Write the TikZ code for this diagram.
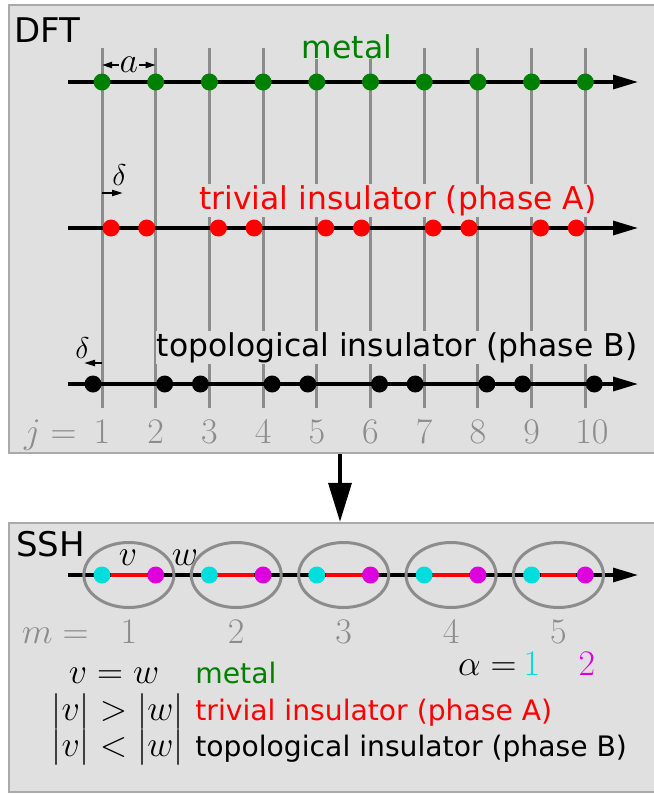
\documentclass[tikz,border=0pt]{standalone}
\usepackage{fix-cm}
\usepackage{fontspec}
\setmainfont{DejaVu Sans}
\usetikzlibrary{arrows.meta,fit,shapes.geometric}

\definecolor{panelfill}{RGB}{224,224,224}
\definecolor{panelline}{RGB}{170,170,170}
\definecolor{lattc}{RGB}{140,140,140}
\definecolor{metalc}{RGB}{0,128,0}
\definecolor{cyanc}{RGB}{0,221,221}
\definecolor{magc}{RGB}{221,0,221}

\begin{document}
\begin{tikzpicture}[
  x=0.5pt, y=-0.5pt,
  panel/.style={draw=panelline, fill=panelfill, line width=1.2pt, inner sep=0pt},
  latt/.style={draw=lattc, line width=1.5pt},
  rowline/.style={line width=1.6pt, -{Triangle[length=12.5pt, width=7pt]}},
  bond/.style={red, line width=1.6pt},
  site/.style={circle, inner sep=0pt, minimum size=8.5pt},
  cell/.style={ellipse, draw=lattc, line width=1.5pt, inner sep=0pt,
               minimum width=45pt, minimum height=32.5pt},
  darr/.style={line width=1pt, -{Triangle[length=5.5pt, width=3pt]}},
  dim/.style={line width=1pt, {Triangle[length=5pt, width=3pt]}-{Triangle[length=5pt, width=3pt]}},
  bigarr/.style={line width=1.7pt, -{Triangle[length=19.5pt, width=11.5pt]}},
  ttl/.style={font=\fontsize{17}{20}\selectfont, anchor=base west, inner sep=0pt},
  txt/.style={font=\fontsize{15.7}{19}\selectfont, anchor=base, fill=panelfill, inner sep=0.5pt},
  leg/.style={font=\fontsize{14.1}{17}\selectfont, anchor=base west, inner sep=0pt},
  eq/.style={font=\fontsize{18}{22}\selectfont, anchor=base, inner sep=0pt},
  num/.style={text=lattc, font=\fontsize{18}{22}\selectfont, anchor=base, inner sep=0pt},
  sml/.style={font=\fontsize{15}{18}\selectfont, anchor=base, inner sep=0pt},
]
\useasboundingbox (0,0) rectangle (654,794);

% ---------------- Panels ----------------
\node[panel, fit={(9,5) (656,453)}] (dft) {};
\node[panel, fit={(9,523) (656,792)}] (ssh) {};
\node[ttl] (dftlbl) at (14,42) {DFT};
\node[ttl] (sshlbl) at (16,556) {SSH};

% ---------------- Lattice sites j ----------------
\foreach \x [count=\j] in {102,155.7,209.4,263.1,316.8,370.5,424.2,477.9,531.6,585.3} {
  \coordinate (top\j) at (\x,48);
  \coordinate (bot\j) at (\x,408);
  \draw[latt] (top\j) -- (bot\j);
}
\foreach \x [count=\j] in {102,155.7,209.4,263.1,316.8,370.5,424.2,477.9,531.6,592}
  \node[num] (j\j) at (\x,443) {$\j$};
\node[num, anchor=base east] (jeq) at (77,443) {$j =$};

% ---------------- Metal ----------------
\coordinate (ms) at (68,82);
\coordinate (me) at (638,82);
\draw[rowline] (ms) -- (me);
\foreach \x [count=\j] in {102,155.7,209.4,263.1,316.8,370.5,424.2,477.9,531.6,585.3}
  \node[site, fill=metalc] (m\j) at (\x,82) {};
\coordinate (a1) at (102,65);
\coordinate (a2) at (155.7,65);
\draw[dim] (a1) -- (a2) node[eq, anchor=center, midway, fill=panelfill, inner sep=0.5pt] (albl) {$a$};
\node[txt, text=metalc] (metal) at (347,58) {metal};

% ---------------- Trivial insulator (phase A) ----------------
\coordinate (ts) at (68,228);
\coordinate (te) at (638,228);
\draw[rowline] (ts) -- (te);
\foreach \x [count=\j] in {111,146.7,218.4,254.1,325.8,361.5,433.2,468.9,540.6,576.3}
  \node[site, fill=red] (t\j) at (\x,228) {};
\coordinate (dts) at (102,193);
\coordinate (dte) at (123,193);
\draw[darr] (dts) -- (dte);
\node[sml] (dtlbl) at (119.5,185) {$\delta$};
\node[txt, text=red] (triv) at (398,209) {trivial insulator (phase A)};

% ---------------- Topological insulator (phase B) ----------------
\coordinate (bs) at (68,384);
\coordinate (be) at (638,384);
\draw[rowline] (bs) -- (be);
\foreach \x [count=\j] in {93,164.7,200.4,272.1,307.8,379.5,415.2,486.9,522.6,594.3}
  \node[site, fill=black] (b\j) at (\x,384) {};
\coordinate (dbs) at (102,363);
\coordinate (dbe) at (84,363);
\draw[darr] (dbs) -- (dbe);
\node[sml] (dblbl) at (82.5,358) {$\delta$};
\node[txt] (topo) at (397,356) {topological insulator (phase B)};

% ---------------- DFT to SSH ----------------
\coordinate (arrx) at (340,0);
\draw[bigarr] (dft.south -| arrx) -- (ssh.north -| arrx);

% ---------------- SSH chain ----------------
\coordinate (ss) at (68,575);
\coordinate (se) at (638,575);
\draw[rowline] (ss) -- (se);
\foreach \xa/\xb [count=\m] in {102/155.7,209.4/263.1,316.8/370.5,424.2/477.9,531.6/585.3} {
  \node[cell] (c\m) at ({(\xa+\xb)/2},575) {};
  \node[site, fill=cyanc] (cy\m) at (\xa,575) {};
  \node[site, fill=magc] (mg\m) at (\xb,575) {};
  \draw[bond] (cy\m) -- (mg\m);
  \node[num] (mn\m) at ({(\xa+\xb)/2},643) {$\m$};
}
\node[num, anchor=base east] (meq) at (89,643) {$m =$};
\node[eq] (vlbl) at (128,565) {$v$};
\node[eq] (wlbl) at (185,565) {$w$};

% ---------------- Sublattice alpha ----------------
\node[eq, anchor=base east] (aleq) at (517,675) {$\alpha =$};
\node[eq, text=cyanc] (al1) at (532,675) {$1$};
\node[eq, text=magc] (al2) at (587,675) {$2$};

% ---------------- Phases ----------------
\node[eq] (eqm) at (114,683) {$v = w$};
\node[eq] (eqt) at (117.5,720) {$|v| > |w|$};
\node[eq] (eqb) at (117.5,756) {$|v| < |w|$};
\node[leg, text=metalc] (lm) at (195,683) {metal};
\node[leg, text=red] (lt) at (195,720) {trivial insulator (phase A)};
\node[leg] (lb) at (195,756) {topological insulator (phase B)};

\end{tikzpicture}
\end{document}
